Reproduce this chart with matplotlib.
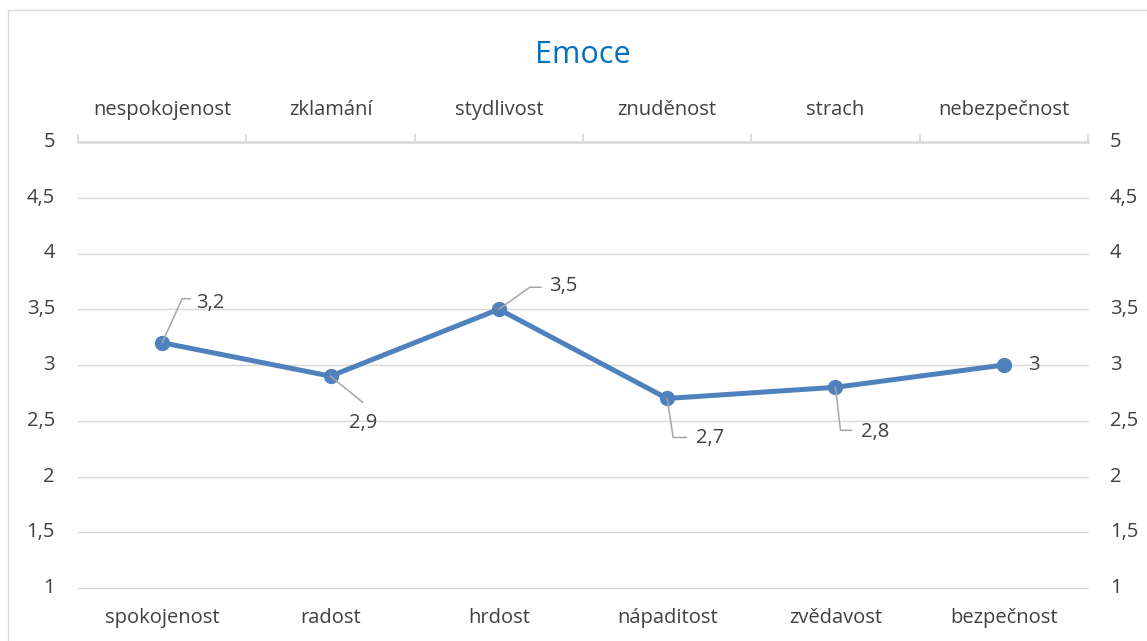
import matplotlib
matplotlib.use("Agg")
import matplotlib.pyplot as plt
from matplotlib.patches import Rectangle
from matplotlib.lines import Line2D
import numpy as np

title = "Emoce"
bottom_labels = ["spokojenost", "radost", "hrdost", "nápaditost", "zvědavost", "bezpečnost"]
top_labels = ["nespokojenost", "zklamání", "stydlivost", "znuděnost", "strach", "nebezpečnost"]
values = [3.2, 2.9, 3.5, 2.7, 2.8, 3.0]
value_texts = ["3,2", "2,9", "3,5", "2,7", "2,8", "3"]
yticks = [1, 1.5, 2, 2.5, 3, 3.5, 4, 4.5, 5]
ytick_texts = ["1", "1,5", "2", "2,5", "3", "3,5", "4", "4,5", "5"]

FONT = ["Open Sans", "DejaVu Sans"]
plt.rcParams['font.family'] = FONT
FS = 14.5
TXT = "#404040"

W, H = 1147, 641
fig = plt.figure(figsize=(W / 100, H / 100), dpi=100)

def fx(px):
    return px / W

def fy(py):
    return 1 - py / H

# chart border
fig.patches.append(Rectangle((fx(8), fy(H + 5)), fx(W + 5 - 8), fy(10) - fy(H + 5),
                             transform=fig.transFigure, fill=False,
                             edgecolor="#D9D9D9", linewidth=1.0))

left, right, top, bottom = 78, 1088, 142, 588
ax = fig.add_axes([fx(left), fy(bottom), fx(right - left), fy(top) - fy(bottom)])
n = len(values)
ax.set_xlim(-0.5, n - 0.5)
ax.set_ylim(1, 5)
for s in ax.spines.values():
    s.set_visible(False)
ax.set_xticks([])
ax.set_yticks([])

grid_c = "#D9D9D9"
for y in yticks:
    ax.axhline(y, color=grid_c, linewidth=1.0, zorder=1, clip_on=False)
# top axis line
ax.axhline(5, color=grid_c, linewidth=1.8, zorder=1, clip_on=False)
x = np.arange(n)

line_c = "#4F81BD"
ax.plot(x, values, color=line_c, linewidth=3.6, marker="o", markersize=10,
        zorder=3, solid_capstyle="round")

fig.canvas.draw()
trans = ax.transData

# tick marks on top axis (upward)
for b in np.arange(-0.5, n, 1.0):
    px, py = trans.transform((b, 5))
    fig.add_artist(Line2D([px, px], [py, py + 7], color=grid_c, linewidth=1.3,
                          transform=None))

# y tick labels both sides
for yv, t in zip(yticks, ytick_texts):
    _, py = trans.transform((0, yv))
    fig.text(fx(55), py / H, t, ha="right", va="center", fontsize=FS, color=TXT)
    fig.text(fx(1110), py / H, t, ha="left", va="center", fontsize=FS, color=TXT)

# category labels
for i, (b, t) in enumerate(zip(bottom_labels, top_labels)):
    px, _ = trans.transform((i, 1))
    fig.text(px / W, fy(618), b, ha="center", va="center", fontsize=FS, color=TXT)
    fig.text(px / W, fy(110), t, ha="center", va="center", fontsize=FS, color=TXT)

fig.text(fx(583), fy(55), title, ha="center", va="center", fontsize=22, color="#0070C0")

# data labels with leader lines (offsets in pixels, y up)
leaders = [
    [(0, 0), (20, 44), (28, 44)],
    [(0, 0), (32, -26)],
    [(0, 0), (31, 22), (42, 22)],
    [(0, 0), (6, -39), (19, -39)],
    [(0, 0), (5, -43), (16, -43)],
    None,
]
text_off = [(34, 40), (18, -47), (50, 23), (29, -40), (26, -45), (24, 0)]
lead_c = "#A6A6A6"
for i, (v, t) in enumerate(zip(values, value_texts)):
    px, py = trans.transform((i, v))
    if leaders[i] is not None:
        xs = [px + d[0] for d in leaders[i]]
        ys = [py + d[1] for d in leaders[i]]
        fig.add_artist(Line2D(xs, ys, color=lead_c, linewidth=1.1, transform=None, zorder=2))
    tx, ty = px + text_off[i][0], py + text_off[i][1]
    fig.text(tx / W, ty / H, t, ha="left", va="center", fontsize=FS, color=TXT)

fig.savefig("out.png", dpi=100)
